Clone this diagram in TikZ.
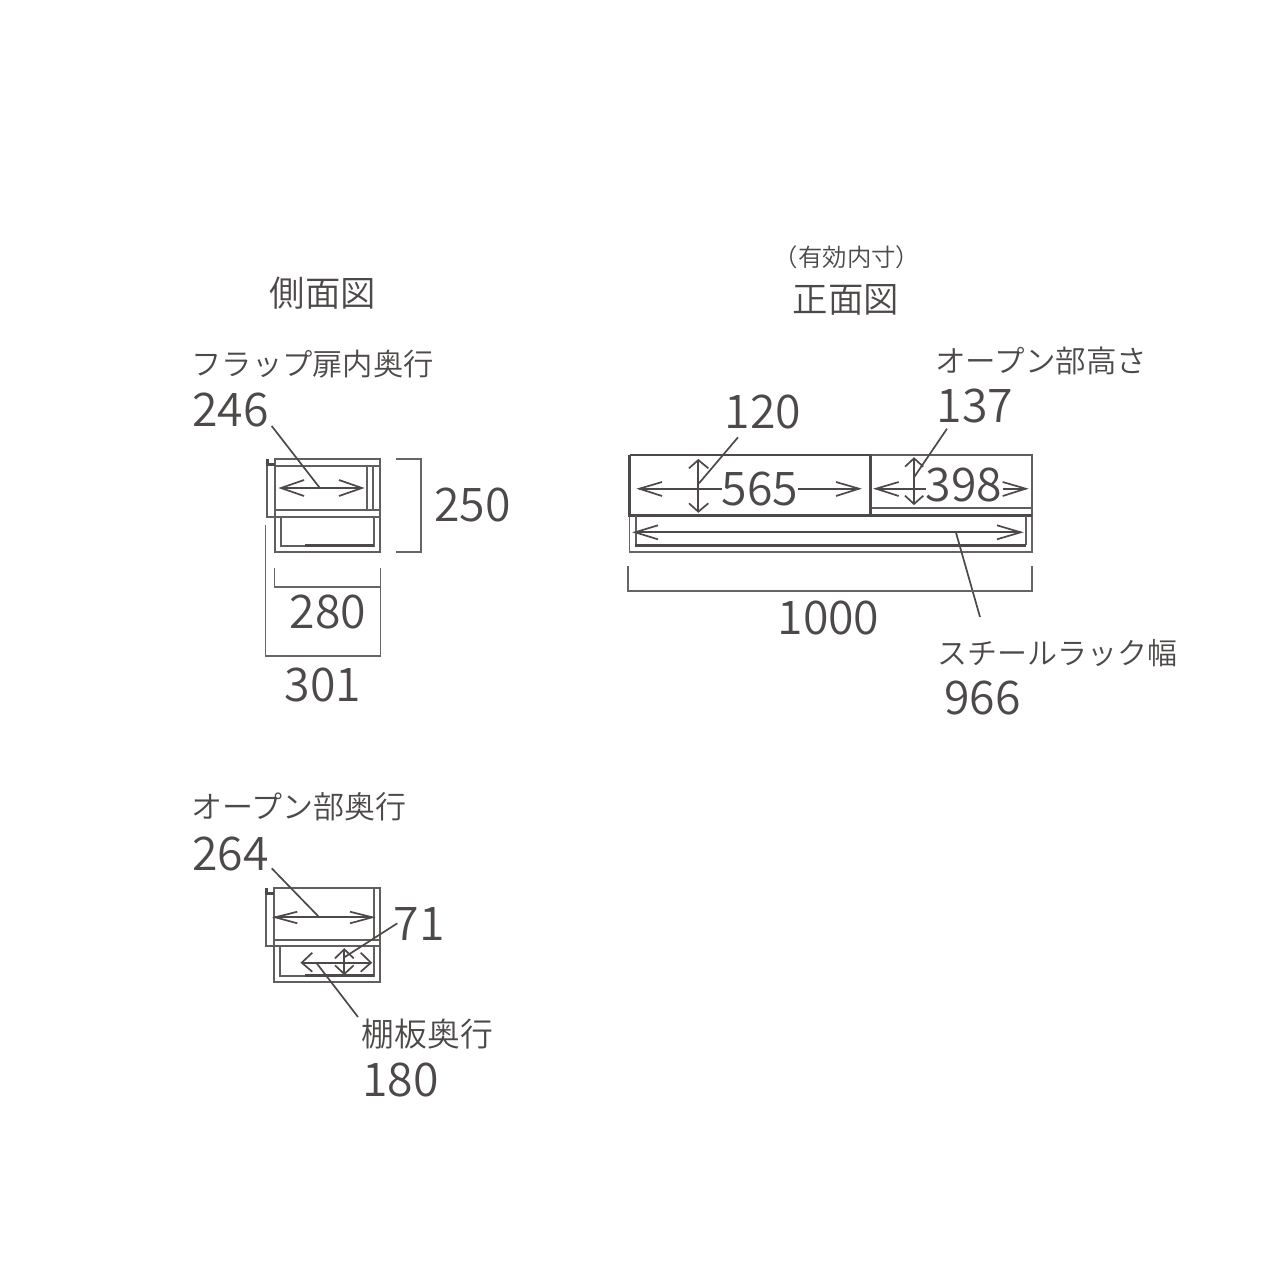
\documentclass[tikz,border=0pt]{standalone}
\usepackage{fontspec}
\setmainfont{Noto Sans CJK JP}[UprightFont=* DemiLight]
\definecolor{ink}{HTML}{4C4948}
\tikzset{
  thin line/.style={draw=ink!88,line width=0.85pt,line cap=butt,line join=miter},
  thick line/.style={draw=ink,line width=1.5pt},
  gray line/.style={draw=ink!85,line width=0.8pt},
  arm/.style={draw=ink,line width=0.85pt},
  num/.style={text=ink,inner sep=0pt,font=\fontsize{23.2}{23.2}\selectfont},
  lab/.style={text=ink,inner sep=0pt,anchor=west,font=\fontsize{15}{15}\selectfont},
  head/.style={text=ink,inner sep=0pt,font=\fontsize{17.7}{17.7}\selectfont},
  small/.style={text=ink,inner sep=0pt,font=\fontsize{12.2}{12.2}\selectfont}
}
\begin{document}
\begin{tikzpicture}[x=0.5pt,y=-0.5pt]
\useasboundingbox (0,0) rectangle (1280,1280);
% --- side view, top
\draw[thin line] (274.7,458.7) rectangle (380.3,516.7);
\draw[thin line] (274.7,465.7) -- (380.3,465.7);
\draw[thin line] (367.3,465.7) -- (367.3,510.3);
\draw[thin line] (373.3,465.7) -- (373.3,510.3);
\draw[thin line] (274.7,510.3) -- (380.3,510.3);
\draw[thin line] (274.7,516.7) -- (274.7,552.3) -- (380.3,552.3) -- (380.3,516.7);
\draw[thin line] (266.7,463) -- (266.7,516.7) -- (274.7,516.7);
\draw[thick line] (267,458.7) -- (267,464) -- (274.7,464);
\draw[thin line] (374,518) -- (374,546) -- (280.7,546) -- (280.7,518);
\draw[thick line] (305.3,545.6) -- (374.4,545.6);
% side arrow
\draw[arm] (304,480) -- (281,488) -- (304,496);
\draw[arm] (339,480) -- (362,488) -- (339,496);
\draw[arm] (281,488) -- (362,488);
\coordinate (a246) at (271.7,426);
\coordinate (b246) at (319.3,487.3);
\draw[arm] (a246) -- (b246);
% brackets
\draw[gray line] (396,458.7) -- (420.7,458.7) -- (420.7,552) -- (396,552);
\draw[gray line] (274.3,567.7) -- (274.3,586.7) -- (380.3,586.7);
\draw[gray line] (380.3,567.7) -- (380.3,656) -- (265.3,656) -- (265.3,525.3);
% --- front view
\draw[thin line] (870.7,455) rectangle (1032,508.3);
\draw[thin line] (870.7,508.3) rectangle (1032,515);
\draw[gray line] (629.3,515) -- (629.3,552) -- (1032,552) -- (1032,515);
\draw[draw=ink,line width=1.1pt] (629.7,455.3) -- (870.7,455.3);
\draw[thick line] (629.7,454.6) -- (629.7,515) -- (1032,515);
\draw[thick line] (870.7,454.6) -- (870.7,515);
\draw[thin line] (635.7,516) -- (635.7,545) (1025.7,545) -- (1025.7,516);
\draw[thick line] (635.2,545) -- (1026.2,545);
% steel arrow
\draw[arm] (658,525.3) -- (635,532.3) -- (658,539.3);
\draw[arm] (997,525.3) -- (1020.7,532.3) -- (997,539.3);
\draw[arm] (635,532.3) -- (1020.7,532.3);
% 565 arrow
\draw[arm] (662,482) -- (639.3,488.7) -- (662,496);
\draw[arm] (836,482) -- (859,488.7) -- (836,496);
\draw[arm] (639.3,488.7) -- (722,488.7) (798.3,488.7) -- (859,488.7);
% 120 arrow
\draw[arm] (689,468.3) -- (698.3,460) -- (708.3,468.3);
\draw[arm] (689,503.3) -- (698.3,511.7) -- (708.3,503.3);
\draw[arm] (698.3,460) -- (698.3,511.7);
\coordinate (a120) at (738,437.3);
\coordinate (b120) at (699,483.3);
\draw[arm] (a120) -- (b120);
% 398 arrow
\draw[arm] (898.7,482) -- (876,488.7) -- (898.7,496);
\draw[arm] (1002.7,482) -- (1025.7,488.7) -- (1002.7,496);
\draw[arm] (876,488.7) -- (926,488.7) (1002.7,488.7) -- (1025.7,488.7);
% 137 arrow
\draw[arm] (905,466.7) -- (914,458.3) -- (923.3,466.7);
\draw[arm] (905,495.7) -- (914,504) -- (923.3,495.7);
\draw[arm] (914,458.3) -- (914,504);
\coordinate (a137) at (947,428.7);
\coordinate (b137) at (914,477.3);
\draw[arm] (a137) -- (b137);
% steel leader
\coordinate (a966) at (956,532.7);
\coordinate (b966) at (980,617);
\draw[arm] (a966) -- (b966);
% 1000 bracket
\draw[gray line] (627.7,566) -- (627.7,591) -- (1031.7,591) -- (1031.7,566);
% --- side view, lower
\draw[thin line] (274,888) rectangle (380,940);
\draw[thin line] (274,940) rectangle (380,946);
\draw[thin line] (374.3,888) -- (374.3,940);
\draw[thin line] (274,946) -- (274,981.7) -- (380,981.7) -- (380,946);
\draw[thin line] (266.3,890) -- (266.3,946) -- (274,946);
\draw[thick line] (266.5,888) -- (266.5,893.3) -- (274,893.3);
\draw[thin line] (280,947.3) -- (280,975.7) -- (374,975.7) -- (374,947.3);
\draw[thick line] (305,975.4) -- (374.4,975.4);
\draw[arm] (297.3,911.7) -- (275.3,917.3) -- (297.3,923.3);
\draw[arm] (350,911.7) -- (372.3,917.3) -- (350,923.3);
\draw[arm] (275.3,917.3) -- (372.3,917.3);
\coordinate (a264) at (271.7,868.3);
\coordinate (b264) at (319.3,917.3);
\draw[arm] (a264) -- (b264);
\draw[arm] (312.3,952.7) -- (301.7,962.7) -- (312.3,971.7);
\draw[arm] (360.7,952.7) -- (371,962.7) -- (360.7,971.7);
\draw[arm] (301.7,962.7) -- (371,962.7);
\draw[arm] (335,958.3) -- (344.3,949.3) -- (353.7,958.3);
\draw[arm] (335,965.3) -- (344.3,974) -- (353.7,965.3);
\draw[arm] (344.3,949.3) -- (344.3,974);
\coordinate (a71) at (397.3,923.3);
\coordinate (b71) at (344.3,957.3);
\draw[arm] (a71) -- (b71);
\coordinate (a180) at (316.7,963.3);
\coordinate (b180) at (358,1017);
\draw[arm] (a180) -- (b180);
% --- text
\node[head] (t1) at (323,293) {側面図};
\node[head] (t2) at (846,300) {正面図};
\node[small] (t3) at (847,257) {（有効内寸）};
\node[lab,font=\fontsize{15.15}{15}\selectfont] (t4) at (191,364.5) {フラップ扉内奥行};
\node[num] (n246) at (230.5,410) {246};
\node[num] (n250) at (472.5,505) {250};
\node[num] (n280) at (328,612) {280};
\node[num] (n301) at (323,685) {301};
\node[num] (n120) at (763,412) {120};
\node[num] (n137) at (975,406) {137};
\node[lab,font=\fontsize{15.25}{15}\selectfont] (t5) at (935,361) {オープン部高さ};
\node[num] (n565) at (760,489) {565};
\node[num] (n398) at (964,485) {398};
\node[num] (n1000) at (828.5,618) {1000};
\node[lab] (t6) at (937.5,653) {スチールラック幅};
\node[num] (n966) at (982.5,698) {966};
\node[lab,font=\fontsize{15.5}{15}\selectfont] (t7) at (191,807) {オープン部奥行};
\node[num] (n264) at (230.5,854) {264};
\node[num] (n71) at (419,924) {71};
\node[lab,font=\fontsize{16.4}{15}\selectfont] (t8) at (361.5,1034) {棚板奥行};
\node[num] (n180) at (400.5,1080) {180};
\end{tikzpicture}
\end{document}
